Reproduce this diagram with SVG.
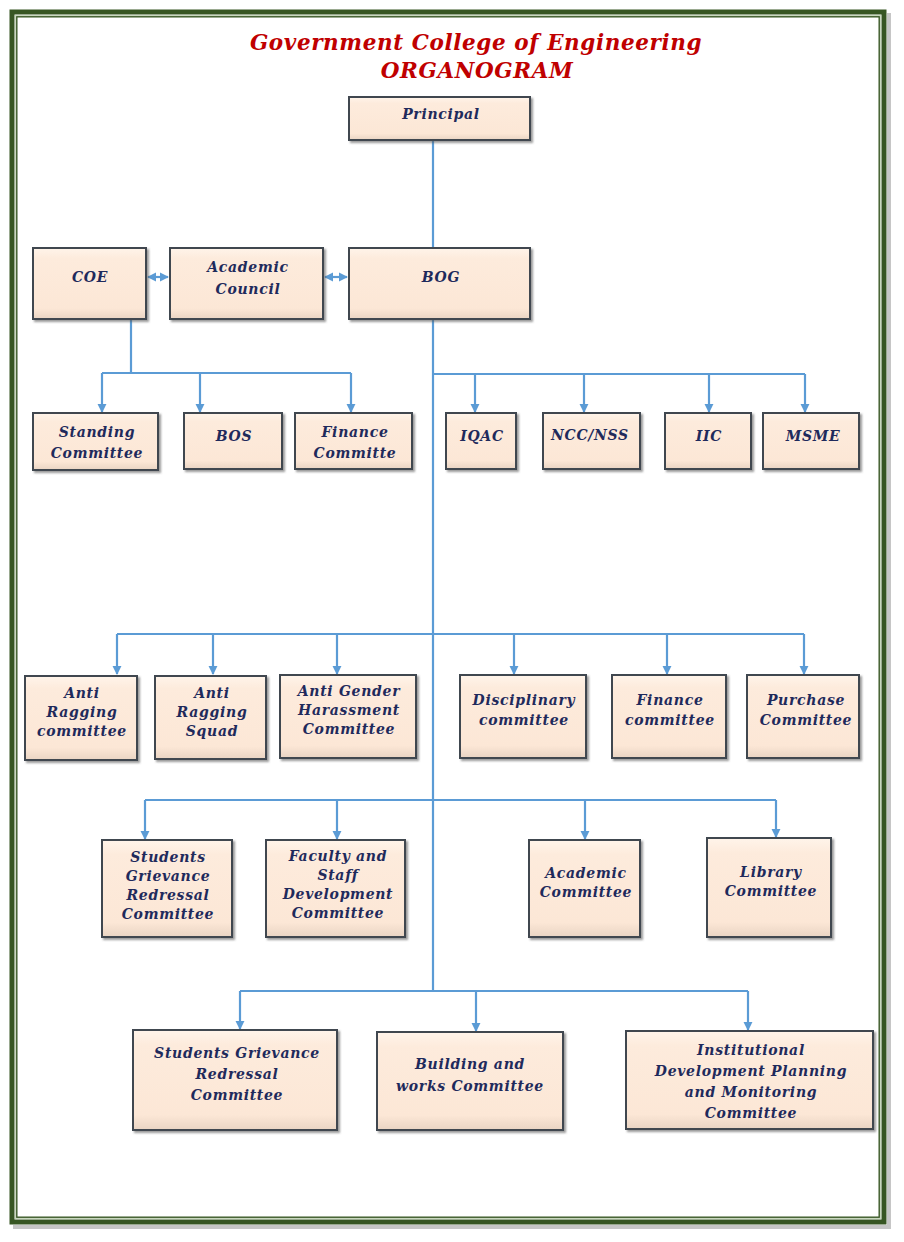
<svg xmlns="http://www.w3.org/2000/svg" width="904" height="1242" viewBox="0 0 904 1242">
<defs>
<linearGradient id="bx" x1="0" y1="0" x2="0" y2="1">
<stop offset="0" stop-color="#FFF4EA"/>
<stop offset="0.15" stop-color="#FDEBDC"/>
<stop offset="0.85" stop-color="#FCE7D6"/>
<stop offset="1" stop-color="#E9D4C3"/>
</linearGradient>
<marker id="ah" viewBox="0 0 10 10" refX="9" refY="5" markerWidth="4.2" markerHeight="4.2" orient="auto-start-reverse" markerUnits="strokeWidth">
<path d="M0,0 L10,5 L0,10 z" fill="#5B9BD5"/>
</marker>
<filter id="sh" x="-10%" y="-10%" width="130%" height="130%">
<feDropShadow dx="2" dy="2" stdDeviation="1.2" flood-color="#555" flood-opacity="0.6"/>
</filter>
</defs>
<style>
.box{fill:url(#bx);stroke:#3F4750;stroke-width:2;filter:url(#sh)}
.t{font-family:"DejaVu Serif","Liberation Serif",serif;font-weight:bold;font-style:italic;font-size:14px;letter-spacing:0.7px;fill:#1F2A5C;text-anchor:middle}
.ttl{font-family:"DejaVu Serif","Liberation Serif",serif;font-weight:bold;font-style:italic;font-size:21.5px;letter-spacing:0.6px;fill:#C00000;text-anchor:middle}
.c{fill:none;stroke:#5B9BD5;stroke-width:2.2}
.a{fill:none;stroke:#5B9BD5;stroke-width:2.2;marker-end:url(#ah)}
.d{fill:none;stroke:#5B9BD5;stroke-width:2.2;marker-end:url(#ah);marker-start:url(#ah)}
</style>
<rect width="904" height="1242" fill="#ffffff"/>
<!-- frame -->
<rect x="13" y="13" width="878" height="1216" fill="#A0A0A0" opacity="0.6"/>
<rect x="9" y="9" width="878" height="1216" fill="#ffffff"/>
<rect x="12" y="12" width="872" height="1210" fill="none" stroke="#375623" stroke-width="5"/>
<rect x="15.5" y="15.5" width="865" height="1203" fill="none" stroke="#C9D8BE" stroke-width="1"/>
<rect x="16.8" y="16.8" width="862.4" height="1200.4" fill="none" stroke="#375623" stroke-width="1.4"/>
<!-- title -->
<g id="title">
<text class="ttl" x="476" y="50">Government College of Engineering</text>
<text class="ttl" x="477" y="78">ORGANOGRAM</text>
</g>
<!-- connectors -->
<g id="connectors">
<path class="c" d="M433,140 V248"/>
<path class="c" d="M433,319 V991"/>
<path class="d" d="M148,277 H168"/>
<path class="d" d="M325,277 H347"/>
<path class="c" d="M131,319 V373 M102,373 H351"/>
<path class="a" d="M102,373 V412"/>
<path class="a" d="M200,373 V412"/>
<path class="a" d="M351,373 V412"/>
<path class="c" d="M433,374 H805"/>
<path class="a" d="M475,374 V412"/>
<path class="a" d="M584,374 V412"/>
<path class="a" d="M709,374 V412"/>
<path class="a" d="M805,374 V412"/>
<path class="c" d="M117,634 H804"/>
<path class="a" d="M117,634 V674"/>
<path class="a" d="M213,634 V674"/>
<path class="a" d="M337,634 V674"/>
<path class="a" d="M514,634 V674"/>
<path class="a" d="M667,634 V674"/>
<path class="a" d="M804,634 V674"/>
<path class="c" d="M145,800 H776"/>
<path class="a" d="M145,800 V839"/>
<path class="a" d="M337,800 V839"/>
<path class="a" d="M585,800 V839"/>
<path class="a" d="M776,800 V837"/>
<path class="c" d="M240,991 H748"/>
<path class="a" d="M240,991 V1029"/>
<path class="a" d="M476,991 V1031"/>
<path class="a" d="M748,991 V1030"/>
</g>
<!-- nodes -->
<g id="principal"><rect class="box" x="349" y="97" width="181" height="43"/><text class="t" x="441" y="119">Principal</text></g>
<g id="coe"><rect class="box" x="33" y="248" width="113" height="71"/><text class="t" x="90" y="282">COE</text></g>
<g id="academic-council"><rect class="box" x="170" y="248" width="153" height="71"/><text class="t" x="248" y="272">Academic</text><text class="t" x="248" y="294">Council</text></g>
<g id="bog"><rect class="box" x="349" y="248" width="181" height="71"/><text class="t" x="441" y="282">BOG</text></g>
<g id="standing"><rect class="box" x="33" y="413" width="125" height="57"/><text class="t" x="97" y="437">Standing</text><text class="t" x="97" y="458">Committee</text></g>
<g id="bos"><rect class="box" x="184" y="413" width="98" height="56"/><text class="t" x="234" y="441">BOS</text></g>
<g id="finance-committe"><rect class="box" x="295" y="413" width="117" height="56"/><text class="t" x="355" y="437">Finance</text><text class="t" x="355" y="458">Committe</text></g>
<g id="iqac"><rect class="box" x="446" y="413" width="70" height="56"/><text class="t" x="482" y="441">IQAC</text></g>
<g id="ncc-nss"><rect class="box" x="543" y="413" width="97" height="56"/><text class="t" x="590" y="440">NCC/NSS</text></g>
<g id="iic"><rect class="box" x="665" y="413" width="86" height="56"/><text class="t" x="709" y="441">IIC</text></g>
<g id="msme"><rect class="box" x="763" y="413" width="96" height="56"/><text class="t" x="813" y="441">MSME</text></g>
<g id="anti-ragging-committee"><rect class="box" x="25" y="676" width="112" height="84"/><text class="t" x="82" y="698">Anti</text><text class="t" x="82" y="717">Ragging</text><text class="t" x="82" y="736">committee</text></g>
<g id="anti-ragging-squad"><rect class="box" x="155" y="676" width="111" height="83"/><text class="t" x="212" y="698">Anti</text><text class="t" x="212" y="717">Ragging</text><text class="t" x="212" y="736">Squad</text></g>
<g id="anti-gender"><rect class="box" x="280" y="675" width="136" height="83"/><text class="t" x="349" y="696">Anti Gender</text><text class="t" x="349" y="715">Harassment</text><text class="t" x="349" y="734">Committee</text></g>
<g id="disciplinary"><rect class="box" x="460" y="675" width="126" height="83"/><text class="t" x="524" y="705">Disciplinary</text><text class="t" x="524" y="725">committee</text></g>
<g id="finance-committee"><rect class="box" x="612" y="675" width="114" height="83"/><text class="t" x="670" y="705">Finance</text><text class="t" x="670" y="725">committee</text></g>
<g id="purchase"><rect class="box" x="747" y="675" width="112" height="83"/><text class="t" x="806" y="705">Purchase</text><text class="t" x="806" y="725">Committee</text></g>
<g id="sgrc-1"><rect class="box" x="102" y="840" width="130" height="97"/><text class="t" x="168" y="862">Students</text><text class="t" x="168" y="881">Grievance</text><text class="t" x="168" y="900">Redressal</text><text class="t" x="168" y="919">Committee</text></g>
<g id="faculty-staff"><rect class="box" x="266" y="840" width="139" height="97"/><text class="t" x="338" y="861">Faculty and</text><text class="t" x="338" y="880">Staff</text><text class="t" x="338" y="899">Development</text><text class="t" x="338" y="918">Committee</text></g>
<g id="academic-committee"><rect class="box" x="529" y="840" width="111" height="97"/><text class="t" x="586" y="878">Academic</text><text class="t" x="586" y="897">Committee</text></g>
<g id="library"><rect class="box" x="707" y="838" width="124" height="99"/><text class="t" x="771" y="877">Library</text><text class="t" x="771" y="896">Committee</text></g>
<g id="sgrc-2"><rect class="box" x="133" y="1030" width="204" height="100"/><text class="t" x="237" y="1058">Students Grievance</text><text class="t" x="237" y="1079">Redressal</text><text class="t" x="237" y="1100">Committee</text></g>
<g id="building"><rect class="box" x="377" y="1032" width="186" height="98"/><text class="t" x="470" y="1069">Building and</text><text class="t" x="470" y="1091">works Committee</text></g>
<g id="idpmc"><rect class="box" x="626" y="1031" width="247" height="98"/><text class="t" x="751" y="1055">Institutional</text><text class="t" x="751" y="1076">Development Planning</text><text class="t" x="751" y="1097">and Monitoring</text><text class="t" x="751" y="1118">Committee</text></g>
</svg>
